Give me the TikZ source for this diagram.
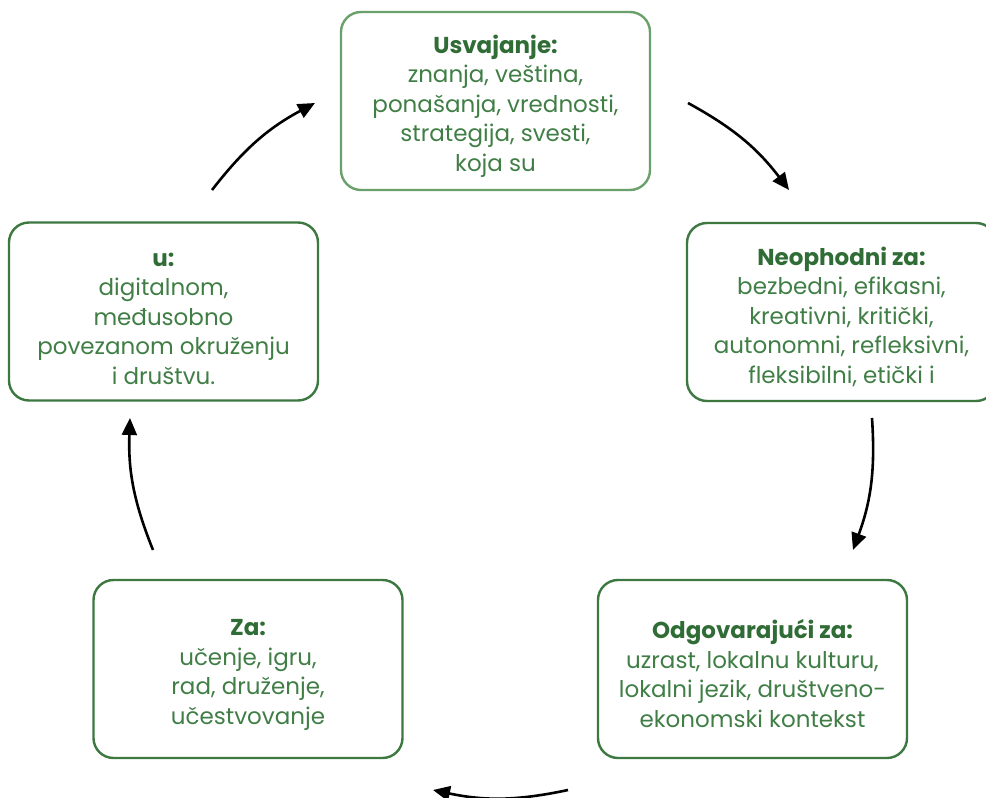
\documentclass[tikz,border=0pt]{standalone}
\usepackage{fontspec}
\setmainfont{Poppins}
\usetikzlibrary{arrows.meta}
\definecolor{boxgreen}{RGB}{60,120,64}
\definecolor{boxlight}{RGB}{106,160,106}
\definecolor{headgreen}{RGB}{48,108,54}
\definecolor{textgreen}{RGB}{64,126,70}
\newcommand{\stagehead}[1]{\rule{0pt}{28pt}\textbf{\color{headgreen}#1}}
\begin{document}
\begin{tikzpicture}[
	x=1pt, y=-1pt,
	stage/.style={ rounded corners=20pt, draw=boxgreen, line width=2.4pt, minimum width=309pt, minimum height=178pt, align=center, text=textgreen, font=\fontsize{23}{29.5}\selectfont },
	stagel/.style={ stage, draw=boxlight },
	cyc/.style={ line width=2.6pt, -{Triangle[length=17pt,width=15pt]} }
]
\useasboundingbox (0,0) rectangle (986,798);

\node at (495.5,101) (usvajanje) [stagel] {\stagehead{Usvajanje:}\\znanja, veština,\\ponašanja, vrednosti,\\strategija, svesti,\\koja su};
\node at (841.5,312) (neophodni) [stage] {\stagehead{Neophodni za:}\\bezbedni, efikasni,\\kreativni, kritički,\\autonomni, refleksivni,\\fleksibilni, etički i};
\node at (752.5,669) (odgovarajuci) [stage] {\stagehead{Odgovarajući za:}\\uzrast, lokalnu kulturu,\\lokalni jezik, društveno-\\ekonomski kontekst};
\node at (248,669) (za) [stage] {\stagehead{Za:}\\učenje, igru,\\rad, druženje,\\učestvovanje};
\node at (163.5,311.5) (okruzenje) [stage] {\stagehead{u:}\\digitalnom,\\međusobno\\povezanom okruženju\\i društvu.};

\coordinate (us-out) at (688,103);
\coordinate (ne-in) at (789,190);
\coordinate (ne-out) at (872,418);
\coordinate (od-in) at (853,550);
\coordinate (od-out) at (568,790);
\coordinate (za-in) at (433,790);
\coordinate (za-out) at (153,550);
\coordinate (ok-in) at (130,418);
\coordinate (ok-out) at (212,190);
\coordinate (us-in) at (315,103);
\foreach \s/\e in {us-out/ne-in,ne-out/od-in,od-out/za-in,za-out/ok-in,ok-out/us-in}
  \draw[cyc] (\s) to[bend left=12] (\e);

\end{tikzpicture}
\end{document}
